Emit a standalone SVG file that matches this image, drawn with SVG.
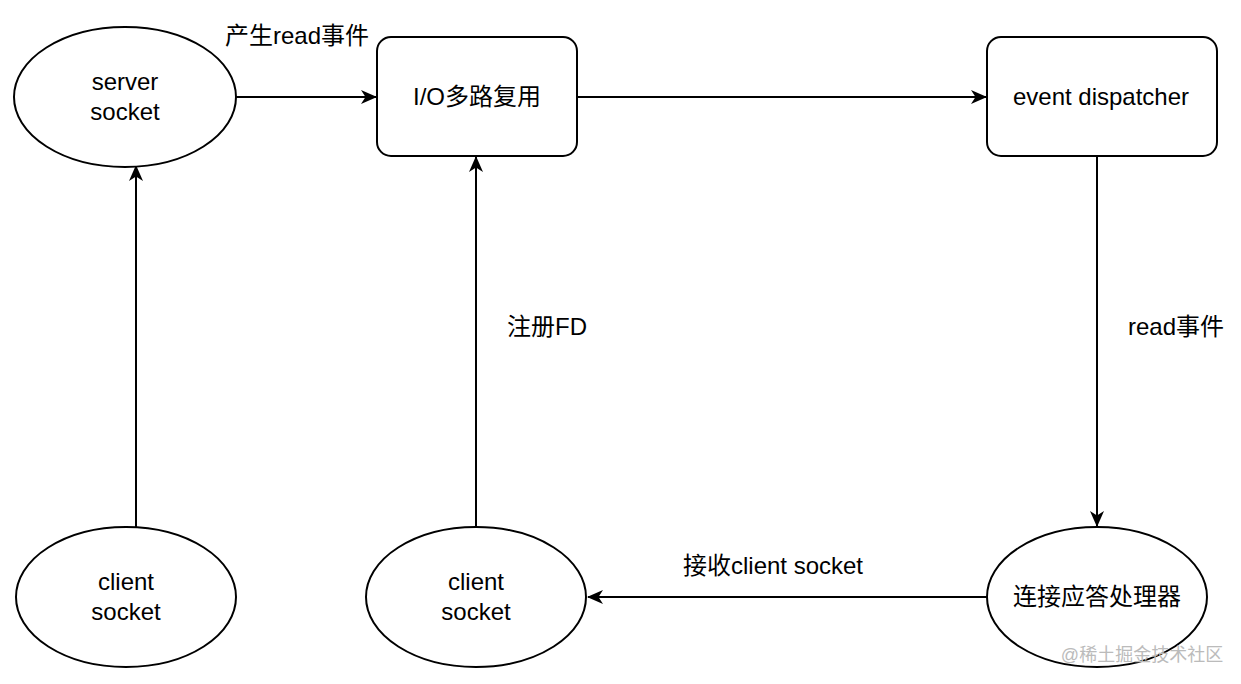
<svg xmlns="http://www.w3.org/2000/svg" width="1241" height="684" viewBox="0 0 1241 684">
<style>
.shape{fill:#fff;stroke:#000;stroke-width:2}
.edge{fill:none;stroke:#000;stroke-width:2}
text{font-family:"Liberation Sans","Noto Sans CJK SC",sans-serif;font-size:24px;fill:#000;text-anchor:middle}
.wm{font-size:18px;fill:#bbb}
</style>
<defs>
<marker id="arr" viewBox="0 0 16 14" refX="15" refY="7" markerWidth="16" markerHeight="14" markerUnits="userSpaceOnUse" orient="auto">
<path d="M0,0 L16,7 L0,14 L4.5,7 Z" fill="#000"/>
</marker>
</defs>
<rect width="1241" height="684" fill="#fff"/>
<g id="connectors">
<line class="edge" x1="236" y1="97" x2="376" y2="97" marker-end="url(#arr)"/>
<line class="edge" x1="577" y1="97" x2="986" y2="97" marker-end="url(#arr)"/>
<line class="edge" x1="1097" y1="156" x2="1097" y2="526" marker-end="url(#arr)"/>
<line class="edge" x1="987" y1="597" x2="588" y2="597" marker-end="url(#arr)"/>
<line class="edge" x1="476" y1="527" x2="476" y2="157" marker-end="url(#arr)"/>
<line class="edge" x1="136" y1="528" x2="136" y2="166" marker-end="url(#arr)"/>
<text x="297" y="44">产生read事件</text>
<text x="547" y="335">注册FD</text>
<text x="1176" y="335">read事件</text>
<text x="773" y="574">接收client socket</text>
</g>
<g id="server-socket">
<ellipse class="shape" cx="125" cy="97" rx="111" ry="70"/>
<text x="125" y="90">server</text>
<text x="125" y="120">socket</text>
</g>
<g id="io-multiplex">
<rect class="shape" x="377" y="37" width="200" height="119" rx="14"/>
<text x="477" y="105">I/O多路复用</text>
</g>
<g id="event-dispatcher">
<rect class="shape" x="987" y="37" width="230" height="119" rx="14"/>
<text x="1101" y="105">event dispatcher</text>
</g>
<g id="client-socket-1">
<ellipse class="shape" cx="126" cy="597" rx="110" ry="70"/>
<text x="126" y="590">client</text>
<text x="126" y="620">socket</text>
</g>
<g id="client-socket-2">
<ellipse class="shape" cx="476" cy="597" rx="110" ry="70"/>
<text x="476" y="590">client</text>
<text x="476" y="620">socket</text>
</g>
<g id="acceptor">
<ellipse class="shape" cx="1097" cy="597" rx="110" ry="70"/>
<text x="1097" y="605">连接应答处理器</text>
</g>
<text class="wm" x="1142" y="661">@稀土掘金技术社区</text>
</svg>
